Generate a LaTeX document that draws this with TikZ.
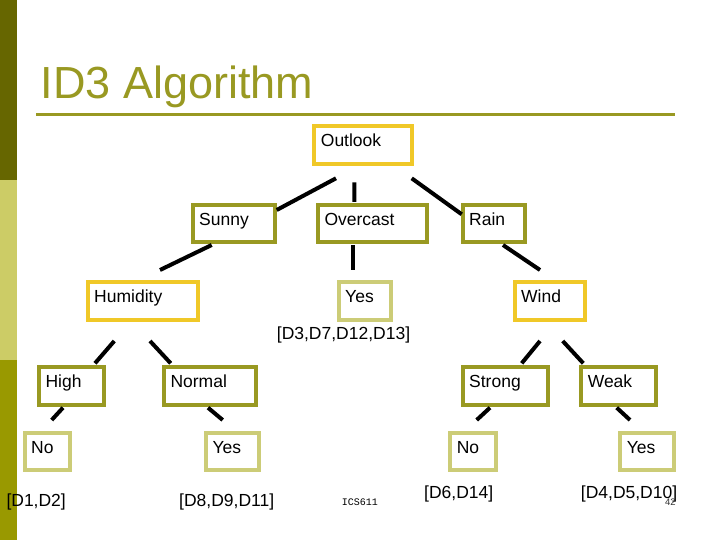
\documentclass[tikz,border=0pt]{standalone}
\usepackage{fontspec}
\setmainfont{Liberation Sans}
\newfontfamily\slidemono{Liberation Mono}
\usetikzlibrary{calc}
\definecolor{barDark}{RGB}{102,102,0}
\definecolor{barLight}{RGB}{204,204,102}
\definecolor{barMid}{RGB}{153,153,0}
\definecolor{titleOlive}{RGB}{153,153,34}
\definecolor{attrYellow}{RGB}{240,200,40}
\definecolor{valOlive}{RGB}{153,153,34}
\definecolor{leafPale}{RGB}{204,204,119}
\tikzset{
  treebox/.style={draw=#1, line width=4pt, anchor=north west, outer sep=0pt,
    inner xsep=6.5pt, inner ysep=7.5pt, text height=13pt, text depth=9.5pt,
    align=left, font=\fontsize{17.5}{20}\selectfont},
  attr/.style={treebox=attrYellow},
  val/.style={treebox=valOlive},
  leaf/.style={treebox=leafPale},
  edge/.style={line width=4pt},
  cases/.style={anchor=base west, inner sep=0pt, font=\fontsize{17.5}{20}\selectfont}
}
\begin{document}
\begin{tikzpicture}[x=1pt,y=-1pt]
\useasboundingbox[fill=white] (0,0) rectangle (720,540);
% side bar
\fill[barDark] (0,0) rectangle (17.3,180);
\fill[barLight] (0,180) rectangle (17.3,360);
\fill[barMid] (0,360) rectangle (17.3,540);
% title
\node[anchor=base west, inner sep=0pt, text=titleOlive, font=\fontsize{45}{54}\selectfont] (title) at (40.6,98.3) {ID3 Algorithm};
\draw[titleOlive, line width=3pt] (36,114.3) -- (674.7,114.3);
% tree nodes
\node[attr, text width=84.6pt] (outlook) at (314.4,126.3) {Outlook};
\node[val, text width=69pt] (sunny) at (192.7,204.7) {Sunny};
\node[val, text width=96.3pt] (overcast) at (318,204.7) {Overcast};
\node[val, text width=49pt] (rain) at (462.7,204.7) {Rain};
\node[attr, text width=97.3pt] (humidity) at (87.7,282) {Humidity};
\node[leaf, text width=39.6pt] (yesover) at (338.7,282) {Yes};
\node[attr, text width=57pt] (wind) at (514.7,282) {Wind};
\node[val, text width=52pt] (high) at (39,367) {High};
\node[val, text width=78.7pt] (normal) at (164,367) {Normal};
\node[val, text width=72.3pt] (strong) at (462.7,367) {Strong};
\node[val, text width=62pt] (weak) at (581.3,367) {Weak};
\node[leaf, text width=32.6pt] (nohigh) at (24.7,432.7) {No};
\node[leaf, text width=40pt] (yesnormal) at (206,432.7) {Yes};
\node[leaf, text width=33pt] (nostrong) at (450.3,432.7) {No};
\node[leaf, text width=40.4pt] (yesweak) at (620.3,432.7) {Yes};
% branches
\draw[edge] ($(outlook.south)+(-27.2,14.5)$) -- ($(sunny.north east)+(2,5.3)$);
\draw[edge] ($(outlook.south)+(-8.9,18.5)$) -- ($(overcast.north)+(-18.35,-2.7)$);
\draw[edge] ($(outlook.south)+(48.5,14.5)$) -- ($(rain.north west)+(-1,9.6)$);
\draw[edge] ($(sunny.south)+(-22,2.8)$) -- ($(humidity.north)+(17.15,-12)$);
\draw[edge] ($(overcast.south)+(-19.65,2.8)$) -- ($(yesover.north)+(-12,-12)$);
\draw[edge] ($(rain.south)+(9.3,2.8)$) -- ($(wind.north)+(-9.7,-12)$);
\draw[edge] ($(humidity.south)+(-28.55,21.5)$) -- ($(high.north)+(23.5,-3.7)$);
\draw[edge] ($(humidity.south)+(7.15,21.5)$) -- ($(normal.north)+(-39.15,-3.7)$);
\draw[edge] ($(wind.south)+(-9.7,21.5)$) -- ($(strong.north)+(16.35,-3.7)$);
\draw[edge] ($(wind.south)+(13,21.5)$) -- ($(weak.north)+(-35.5,-3.7)$);
\draw[edge] ($(high.south)+(-8.5,3.2)$) -- ($(nohigh.north)+(4.2,-12.7)$);
\draw[edge] ($(normal.south)+(-1.85,3.2)$) -- ($(yesnormal.north)+(-9.8,-12.7)$);
\draw[edge] ($(strong.south)+(-15.35,3.2)$) -- ($(nostrong.north)+(3.4,-12.7)$);
\draw[edge] ($(weak.south)+(-2.1,3.2)$) -- ($(yesweak.north)+(-17,-12.7)$);
% example sets
\node[cases] (setover) at (276.7,339.5) {[D3,D7,D12,D13]};
\node[cases] (sethigh) at (6.3,506) {[D1,D2]};
\node[cases] (setnormal) at (179,506) {[D8,D9,D11]};
\node[cases] (setstrong) at (424,498.8) {[D6,D14]};
\node[cases] (setweak) at (580.7,498.8) {[D4,D5,D10]};
% footer
\node[anchor=base west, inner sep=0pt, font=\slidemono\fontsize{10}{12}\selectfont] (course) at (341.7,505.5) {ICS611};
\node[anchor=base west, inner sep=0pt, text=black!80, font=\fontsize{9.5}{11}\selectfont] (page) at (665,505) {42};
\end{tikzpicture}
\end{document}
